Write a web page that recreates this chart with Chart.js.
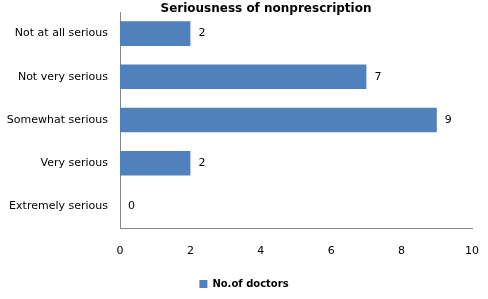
<!DOCTYPE html>
<html>
<head>
<meta charset="utf-8">
<script src="https://cdn.jsdelivr.net/npm/chart.js@4"></script>
<style>
  html, body { margin: 0; padding: 0; background: #fff; }
  #wrap { width: 488px; height: 299px; }
</style>
</head>
<body>
<div id="wrap"><canvas id="seriousChart"></canvas></div>
<script>
const categories = ['Not at all serious', 'Not very serious', 'Somewhat serious', 'Very serious', 'Extremely serious'];
const doctors = [2, 7, 9, 2, 0];
const xTicks = [0, 2, 4, 6, 8, 10];

const FONT = 'DejaVu Sans';

// value next to each bar + title over the plot
const labelPlugin = {
  id: 'labels',
  afterDatasetsDraw(chart) {
    const c = chart.ctx;
    const meta = chart.getDatasetMeta(0);
    c.save();
    c.font = '11px "' + FONT + '"';
    c.fillStyle = '#000';
    c.textBaseline = 'middle';
    c.textAlign = 'left';
    meta.data.forEach((bar, i) => {
      c.fillText(String(doctors[i]), bar.x + 8, bar.y);
    });
    c.font = 'bold 12px "' + FONT + '"';
    c.textAlign = 'center';
    c.fillText('Seriousness of nonprescription', 266, 9);
    c.restore();
  }
};

const ctx = document.getElementById('seriousChart').getContext('2d');
new Chart(ctx, {
  type: 'bar',
  data: {
    labels: categories,
    datasets: [{
      label: 'No.of doctors',
      data: doctors,
      backgroundColor: '#4f81bd',
      borderWidth: 0,
      barPercentage: 0.57,
      categoryPercentage: 1
    }]
  },
  options: {
    indexAxis: 'y',
    responsive: true,
    maintainAspectRatio: false,
    animation: false,
    layout: { padding: 0 },
    scales: {
      x: {
        min: 0,
        max: 10,
        afterBuildTicks(scale) { scale.ticks = xTicks.map(v => ({ value: v })); },
        grid: { display: false, drawTicks: false },
        border: { color: '#868686', width: 1 },
        ticks: { color: '#000', padding: 17, font: { family: FONT, size: 11 } },
        afterFit(scale) {
          scale.height = 41;
          scale.paddingLeft = 0;
          scale.paddingRight = 16;
        }
      },
      y: {
        grid: { display: false, drawTicks: false },
        border: { color: '#868686', width: 1 },
        ticks: { color: '#000', padding: 12, font: { family: FONT, size: 11 } },
        afterFit(scale) {
          scale.width = 120;
          scale.paddingTop = 12;
          scale.paddingBottom = 0;
        }
      }
    },
    plugins: {
      title: { display: false },
      tooltip: { enabled: false },
      legend: {
        position: 'bottom',
        labels: {
          color: '#000',
          boxWidth: 8,
          boxHeight: 8,
          padding: 10,
          font: { family: FONT, size: 10, weight: 'bold' }
        }
      }
    }
  },
  plugins: [labelPlugin]
});
</script>
</body>
</html>
